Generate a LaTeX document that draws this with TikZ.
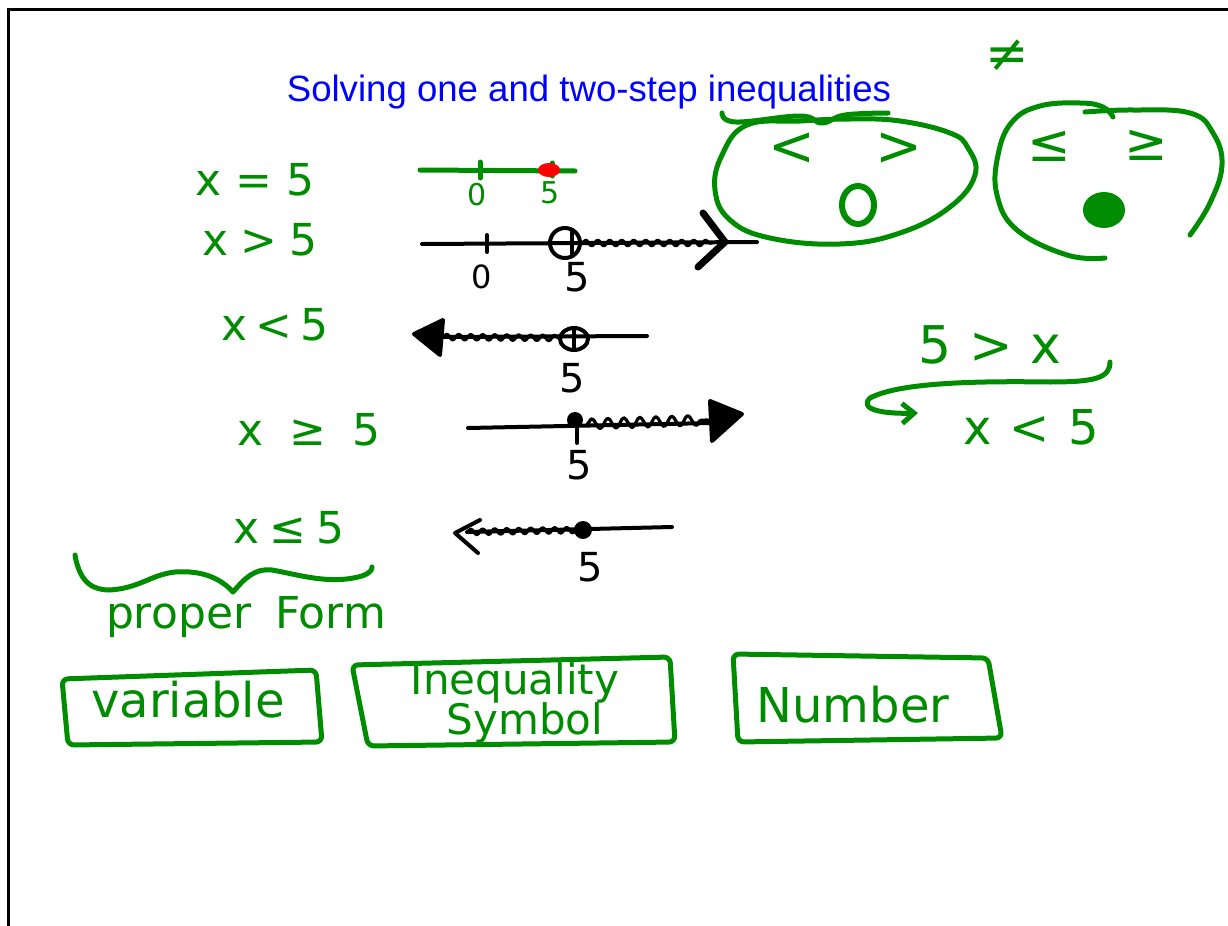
\documentclass[tikz,border=0pt]{standalone}
\usepackage{fontspec}
\setmainfont{Liberation Sans}
\newfontfamily\handfont{DejaVu Sans}
\usetikzlibrary{positioning,arrows.meta,decorations.pathmorphing}
\definecolor{pen}{RGB}{0,140,0}
\definecolor{titleblue}{RGB}{0,0,255}
\definecolor{dotred}{RGB}{255,0,0}

\begin{document}
\begin{tikzpicture}[
  x=0.5pt, y=-0.5pt,
  hand/.style={text=pen, inner sep=0pt, font=\handfont\fontsize{22}{26}\selectfont},
  bighand/.style={hand, font=\handfont\fontsize{24}{28}\selectfont},
  numlabel/.style={inner sep=0pt, font=\handfont\fontsize{20}{22}\selectfont},
  smalllabel/.style={inner sep=0pt, font=\handfont\fontsize{15}{17}\selectfont},
  penline/.style={draw=pen, line width=2.5pt, line cap=round, line join=round},
  ink/.style={draw=black, line width=2pt, line cap=round, line join=round},
  squiggle/.style={ink, line width=1.6pt, decorate, decoration={snake, amplitude=1.4pt, segment length=6pt}}
]
\useasboundingbox (0,0) rectangle (1228,926);
\draw[line width=1.5pt] (8,926) -- (8,9) -- (1228,9);

% title
\node[text=titleblue, font=\fontsize{18.3}{22}\selectfont, anchor=base] (title) at (589,101) {Solving one and two-step inequalities};

% inequalities
\node[hand] (eqeq) at (255,180) {x = 5};
\node[hand] (eqgt) at (260,240) {x\hspace{6pt}>\hspace{6pt}5};
\node[hand] (eqlt) at (275,325) {x\hspace{4pt}<\hspace{4pt}5};
\node[hand] (eqge) at (309,430) {x\hspace{13pt}≥\hspace{13pt}5};
\node[hand] (eqle) at (289,528) {x\hspace{5pt}≤\hspace{5pt}5};

% number line x = 5
\draw[penline] (420,170) -- (575,171);
\draw[penline] (480,162) -- (480,178);
\draw[penline] (552,163) -- (552,176);
\fill[dotred] (549,170) ellipse (11 and 7);
\node[smalllabel, text=pen] (zeroa) at (477,195) {0};
\node[smalllabel, text=pen] (fivea) at (550,193) {5};

% number line x > 5
\draw[ink] (422,244) -- (757,242);
\draw[ink] (487,235) -- (487,252);
\draw[squiggle] (582,243) -- (712,243);
\draw[ink] (565,243) circle (15);
\draw[ink] (572,230) -- (572,256);
\draw[ink, line width=3.5pt] (703,213) -- (725,242) -- (698,267);
\node[inner sep=0pt, font=\handfont\fontsize{16}{18}\selectfont] (zerob) at (482,277) {0};
\node[numlabel] (fiveb) at (577,277) {5};

% number line x < 5
\draw[ink] (440,337) -- (647,336);
\filldraw[ink] (414,334) -- (443,320) -- (440,355) -- cycle;
\draw[squiggle] (443,337) -- (561,338);
\draw[ink] (574,339) ellipse (14 and 11);
\draw[ink] (574,328) -- (574,350);
\node[numlabel] (fivec) at (572,378) {5};

% number line x >= 5
\draw[ink] (468,428) -- (712,423);
\draw[squiggle, decoration={amplitude=2.5pt, segment length=8pt}] (587,424) -- (708,420);
\fill (575,420) circle (8);
\draw[ink] (577,428) -- (577,443);
\filldraw[ink] (742,414) -- (710,401) -- (712,441) -- cycle;
\node[numlabel] (fived) at (579,465) {5};

% number line x <= 5
\draw[ink] (467,532) -- (672,527);
\draw[squiggle] (467,532) -- (578,530);
\draw[ink] (480,520) -- (455,533) -- (478,553);
\fill (583,530) circle (9);
\node[numlabel] (fivee) at (590,567) {5};

% open and closed circle bubbles
\draw[penline] plot[smooth cycle, tension=0.7] coordinates {(800,121) (747,125) (722,155) (715,190) (730,220) (770,238) (840,244) (900,233) (950,207) (975,175) (968,148) (950,133) (900,121) (850,119)};
\draw[penline] plot[smooth, tension=0.7] coordinates {(722,113) (736,122) (800,116) (822,123) (845,115) (888,113)};
\node[hand, font=\handfont\fontsize{28}{30}\selectfont] (bublt) at (792,149) {<};
\node[hand, font=\handfont\fontsize{28}{30}\selectfont] (bubgt) at (899,149) {>};
\draw[penline, line width=3pt] (858,205) ellipse (16 and 19);

\draw[penline] plot[smooth, tension=0.7] coordinates {(1105,258) (1067,255) (1017,230) (997,195) (998,155) (1012,122) (1040,106) (1080,103) (1103,107) (1113,117)};
\draw[penline] plot[smooth, tension=0.7] coordinates {(1085,112) (1133,110) (1190,113) (1213,133) (1222,165) (1210,203) (1190,235)};
\node[bighand, font=\handfont\fontsize{26}{28}\selectfont] (buble) at (1049,146) {≤};
\node[bighand, font=\handfont\fontsize{26}{28}\selectfont] (bubge) at (1146,145) {≥};
\fill[pen] (1104,210) ellipse (21 and 18);
\node[hand, font=\handfont\fontsize{26}{28}\selectfont] (noteq) at (1007,56) {≠};

% rewriting 5 > x
\node[hand, font=\handfont\fontsize{26}{28}\selectfont] (flipa) at (990,345) {5\hspace{9pt}>\hspace{9pt}x};
\node[bighand] (flipb) at (1031,427) {x\hspace{9pt}<\hspace{9pt}5};
\coordinate (bendfrom) at (1110,362);
\coordinate (bendto) at (918,413);
\draw[penline, -{Straight Barb[length=6pt, width=10pt]}] (bendfrom) .. controls (1110,378) and (1095,382) .. (1050,382) .. controls (980,381) and (900,382) .. (870,398) .. controls (858,410) and (885,414) .. (bendto);

% brace
\draw[penline] (75,555) .. controls (80,585) and (95,590) .. (110,590) .. controls (140,588) and (150,575) .. (175,572) .. controls (205,570) and (222,580) .. (233,592) .. controls (245,578) and (255,568) .. (272,570) .. controls (300,575) and (330,585) .. (362,576) .. controls (370,573) and (372,570) .. (372,567);
\node[hand, anchor=base, font=\handfont\fontsize{22}{26}\selectfont] (proper) at (246,628) {proper\hspace{12pt}Form};

% parts of the form
\draw[penline, rounded corners=3pt] (62,679) -- (316,670) -- (322,742) -- (68,745) -- cycle;
\node[bighand, anchor=base] (var) at (188,717) {variable};
\draw[penline, rounded corners=3pt] (352,665) -- (670,657) -- (675,742) -- (368,746) -- cycle;
\node[hand, anchor=base, font=\handfont\fontsize{21}{24}\selectfont] (ineq) at (515,694) {Inequality};
\node[hand, anchor=base, font=\handfont\fontsize{21}{24}\selectfont] (symb) at (525,734) {Symbol};
\draw[penline, rounded corners=3pt] (733,654) -- (988,658) -- (1002,738) -- (738,742) -- cycle;
\node[bighand, anchor=base] (num) at (853,722) {Number};
\end{tikzpicture}
\end{document}
